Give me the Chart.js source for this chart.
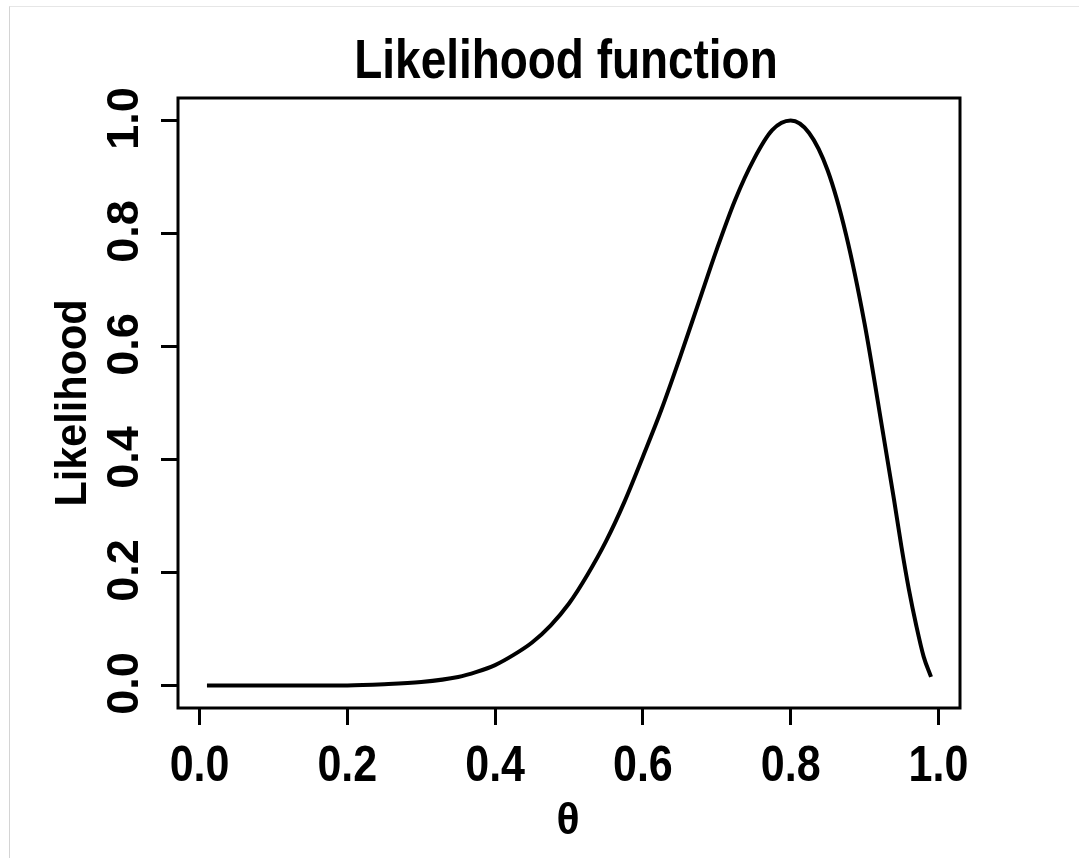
<!DOCTYPE html>
<html>
<head>
<meta charset="utf-8">
<title>Likelihood function</title>
<script src="https://cdn.jsdelivr.net/npm/chart.js@4.4.1/dist/chart.umd.min.js"></script>
<style>
  html, body { margin: 0; padding: 0; background: #fff; }
  #wrap { position: relative; width: 1079px; height: 858px; overflow: hidden; }
  #frame { position: absolute; left: 9px; top: 6px; width: 1100px; height: 900px; border-left: 1px solid #d4d4d4; border-top: 1px solid #e6e6e6; }
  canvas { position: absolute; left: 0; top: 0; }
</style>
</head>
<body>
<div id="wrap">
  <div id="frame"></div>
  <canvas id="likelihoodChart" width="1079" height="858"></canvas>
</div>
<script>
// values
const theta = [0.01, 0.05, 0.10, 0.15, 0.20, 0.25, 0.30, 0.35, 0.375, 0.40, 0.425, 0.45, 0.475, 0.50,
  0.525, 0.55, 0.575, 0.60, 0.625, 0.65, 0.675, 0.70, 0.725, 0.75, 0.775, 0.80, 0.825, 0.85,
  0.875, 0.90, 0.925, 0.94, 0.95, 0.96, 0.97, 0.98, 0.99];
const likelihood = [0.000, 0.000, 0.000, 0.000, 0.000, 0.002, 0.006, 0.015, 0.024, 0.036, 0.054, 0.076, 0.106, 0.145,
  0.196, 0.255, 0.325, 0.405, 0.488, 0.580, 0.676, 0.772, 0.860, 0.931, 0.983, 1.000, 0.978, 0.912,
  0.798, 0.641, 0.447, 0.328, 0.245, 0.170, 0.106, 0.051, 0.015];

const xTicks = [0, 0.2, 0.4, 0.6, 0.8, 1.0];
const xTickLabels = ['0.0', '0.2', '0.4', '0.6', '0.8', '1.0'];
const yTicks = [0, 0.2, 0.4, 0.6, 0.8, 1.0];
const yTickLabels = ['0.0', '0.2', '0.4', '0.6', '0.8', '1.0'];

const FONT = "'Liberation Sans', Arial, Helvetica, sans-serif";

// bold text, squeezed along its own direction (fLen) and across it (fHgt)
function drawText(ctx, text, x, y, size, fLen, fHgt, vertical) {
  ctx.save();
  ctx.translate(x, y);
  if (vertical) ctx.rotate(-Math.PI / 2);
  ctx.scale(fLen, fHgt);
  ctx.font = 'bold ' + size + 'px ' + FONT;
  ctx.fillStyle = '#000';
  ctx.textAlign = 'center';
  ctx.textBaseline = 'alphabetic';
  ctx.fillText(text, 0, 0);
  ctx.restore();
}

// R style box round the plot region, plus the titles and tick labels
const rStylePlugin = {
  id: 'rStyle',
  afterDatasetsDraw(chart) {
    const { ctx, chartArea: a } = chart;
    ctx.save();
    ctx.lineWidth = 3;
    ctx.strokeStyle = '#000';
    ctx.strokeRect(a.left, a.top, a.right - a.left, a.bottom - a.top);
    ctx.restore();
  },
  afterDraw(chart) {
    const { ctx, scales } = chart;
    const xs = scales.x, ys = scales.y;
    const midX = (chart.chartArea.left + chart.chartArea.right) / 2;
    const midY = (chart.chartArea.top + chart.chartArea.bottom) / 2;

    drawText(ctx, 'Likelihood function', midX - 3, 78, 56, 0.82, 1, false);

    xs.ticks.forEach((t, i) => {
      drawText(ctx, xTickLabels[i], xs.getPixelForValue(t.value), 781, 50, 0.86, 1, false);
    });
    drawText(ctx, 'θ', midX - 1, 834, 45, 0.95, 1, false);

    ys.ticks.forEach((t, i) => {
      drawText(ctx, yTickLabels[i], 138, ys.getPixelForValue(t.value) - 2, 45, 1, 0.97, true);
    });
    drawText(ctx, 'Likelihood', 86, midY, 45, 0.92, 1, true);
  }
};

const tickGrid = { drawOnChartArea: false, drawTicks: true, tickLength: 17, tickWidth: 3, tickColor: '#000' };

new Chart(document.getElementById('likelihoodChart'), {
  type: 'line',
  data: {
    datasets: [{
      data: theta.map((t, i) => ({ x: t, y: likelihood[i] })),
      borderColor: '#000',
      borderWidth: 4,
      pointRadius: 0,
      fill: false,
      cubicInterpolationMode: 'monotone'
    }]
  },
  options: {
    responsive: false,
    animation: false,
    layout: { padding: { left: 0, top: 98, right: 119, bottom: 0 } },
    plugins: {
      legend: { display: false },
      tooltip: { enabled: false },
      title: { display: false }
    },
    scales: {
      x: {
        type: 'linear',
        min: -0.0292,
        max: 1.0292,
        afterBuildTicks: s => { s.ticks = xTicks.map(v => ({ value: v })); },
        afterFit: s => { s.height = 150; },
        grid: tickGrid,
        border: { display: false },
        ticks: { display: false }
      },
      y: {
        type: 'linear',
        min: -0.04,
        max: 1.04,
        afterBuildTicks: s => { s.ticks = yTicks.map(v => ({ value: v })); },
        afterFit: s => { s.width = 178; },
        grid: tickGrid,
        border: { display: false },
        ticks: { display: false }
      }
    }
  },
  plugins: [rStylePlugin]
});
</script>
</body>
</html>
